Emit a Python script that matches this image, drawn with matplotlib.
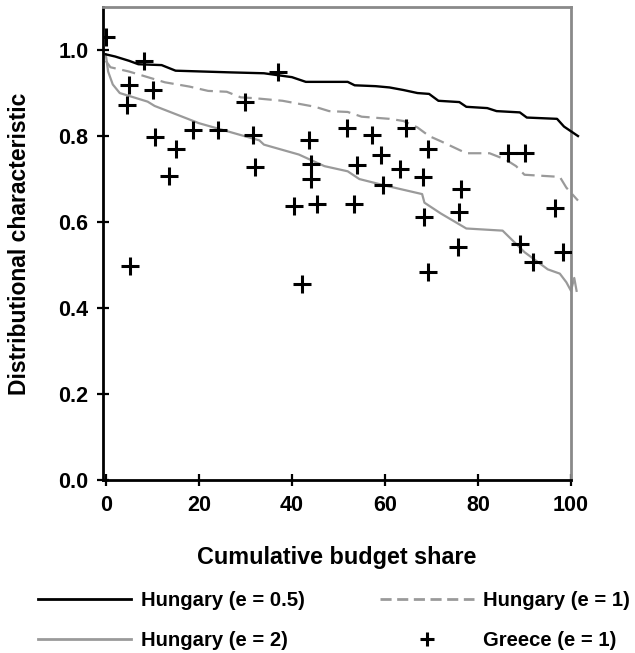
import matplotlib.pyplot as plt
from matplotlib.lines import Line2D

plt.rcParams['font.family'] = ['Liberation Sans', 'DejaVu Sans']

# Hungary, e = 0.5 (black solid)
hu05_x = [0, 2, 5, 7, 12, 15, 27, 34, 40, 43, 52, 53.5, 58, 61, 64, 67, 69.5, 71.5,
          76, 77.5, 82, 84, 89, 90.5, 97, 98.5, 101.5]
hu05_y = [0.99, 0.985, 0.975, 0.967, 0.965, 0.952, 0.948, 0.946, 0.937, 0.926, 0.926,
          0.918, 0.916, 0.913, 0.907, 0.900, 0.898, 0.882, 0.879, 0.868, 0.865, 0.858,
          0.855, 0.843, 0.840, 0.822, 0.80]

# Hungary, e = 1 (grey dashed)
hu1_x = [0, 1, 3, 5, 12.7, 18, 22, 26, 29, 32, 38, 40, 45, 48, 52, 55, 61, 64, 67,
         69.5, 72, 77.5, 82.5, 86, 88.2, 90, 97.6, 99, 101.5]
hu1_y = [0.975, 0.96, 0.955, 0.95, 0.925, 0.915, 0.905, 0.903, 0.89, 0.888, 0.882,
         0.878, 0.868, 0.858, 0.856, 0.845, 0.84, 0.835, 0.82, 0.80, 0.788, 0.76, 0.76,
         0.745, 0.73, 0.71, 0.705, 0.68, 0.65]

# Hungary, e = 2 (grey solid)
hu2_x = [0, 0.5, 1.5, 3, 9, 10.5, 20, 33, 34, 41.5, 47, 52, 54.5, 60, 68, 68.5, 72,
         77.5, 85.3, 90, 95, 97.6, 99, 100, 100.7, 101.2]
hu2_y = [0.99, 0.95, 0.92, 0.90, 0.88, 0.87, 0.83, 0.79, 0.78, 0.757, 0.73, 0.718, 0.70,
         0.685, 0.665, 0.645, 0.62, 0.585, 0.58, 0.53, 0.49, 0.48, 0.46, 0.44, 0.47, 0.44]

# Greece, e = 1 (points)
gr_x = [0.0, 4.6, 4.9, 5.3, 8.2, 10.2, 10.6, 13.5, 15.2, 18.8, 24.2, 29.9, 31.7, 32.1,
        37.0, 40.4, 42.2, 43.6, 44.2, 44.2, 45.4, 51.9, 53.3, 54.0, 57.3, 59.2, 59.6,
        63.2, 64.5, 68.1, 68.5, 69.2, 69.3, 75.8, 76.0, 76.4, 86.4, 89.0, 90.1, 91.9,
        96.5, 98.3]
gr_y = [1.03, 0.872, 0.918, 0.497, 0.975, 0.907, 0.797, 0.708, 0.771, 0.815, 0.815,
        0.879, 0.802, 0.728, 0.949, 0.637, 0.456, 0.790, 0.736, 0.699, 0.643, 0.818,
        0.643, 0.732, 0.802, 0.755, 0.685, 0.724, 0.819, 0.705, 0.612, 0.483, 0.771,
        0.542, 0.623, 0.676, 0.761, 0.548, 0.761, 0.507, 0.632, 0.530]

xticks = [0, 20, 40, 60, 80, 100]
yticks = [0.0, 0.2, 0.4, 0.6, 0.8, 1.0]

fig = plt.figure(figsize=(6.35, 6.53), dpi=100)
ax = fig.add_axes([0.1622, 0.2649, 0.737, 0.7243])

grey = '#9a9a9a'
ax.plot(hu05_x, hu05_y, color='black', lw=1.7, clip_on=False, zorder=3)
ax.plot(hu1_x, hu1_y, color=grey, lw=1.6, linestyle=(0, (6, 3)), clip_on=False)
ax.plot(hu2_x, hu2_y, color=grey, lw=1.6, clip_on=False)
ax.plot(gr_x, gr_y, linestyle='none', marker='+', ms=12.5, mew=2.2, color='black', zorder=4)

ax.set_xlim(-0.6, 100)
ax.set_ylim(0, 1.1)
ax.set_xticks(xticks)
ax.set_yticks(yticks)
ax.set_yticklabels([f'{v:.1f}' for v in yticks])

for s in ['left', 'bottom']:
    ax.spines[s].set_linewidth(2)
    ax.spines[s].set_color('black')
for s in ['top', 'right']:
    ax.spines[s].set_linewidth(2)
    ax.spines[s].set_color('#8a8a8a')

ax.tick_params(direction='inout', length=9, width=1.6, labelsize=15.5, pad=6)
for lab in ax.get_xticklabels() + ax.get_yticklabels():
    lab.set_fontweight('bold')

ax.set_xlabel('Cumulative budget share', fontsize=16.8, fontweight='bold', labelpad=22)
ax.set_ylabel('Distributional characteristic', fontsize=16.5, fontweight='bold', labelpad=20)

handles = [Line2D([], [], color='black', lw=2),
           Line2D([], [], color=grey, lw=2),
           Line2D([], [], color=grey, lw=2, linestyle=(0, (4, 2))),
           Line2D([], [], color='black', linestyle='none', marker='+', ms=10, mew=2.2)]
labels = ['Hungary (e = 0.5)', 'Hungary (e = 2)', 'Hungary (e = 1)', 'Greece (e = 1)']
fig.legend(handles, labels, ncol=2, loc='upper left', bbox_to_anchor=(0.06, 0.095),
           frameon=False, borderpad=0, borderaxespad=0, handlelength=4.6,
           handletextpad=0.45, columnspacing=3.75, labelspacing=1.05,
           prop={'size': 14.6, 'weight': 'bold'})

fig.savefig('out.png', dpi=100)
